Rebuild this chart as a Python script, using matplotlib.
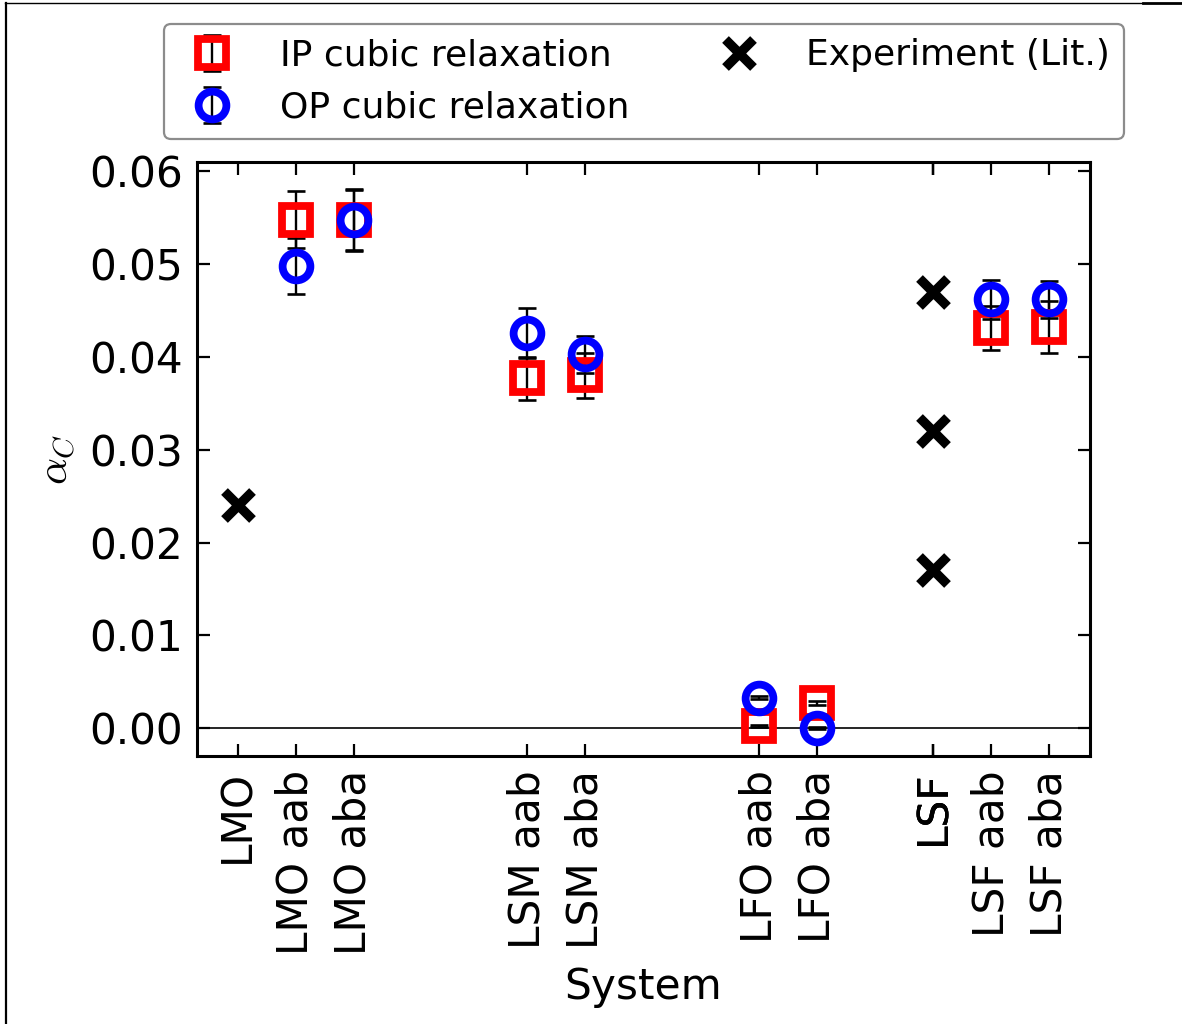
import matplotlib
matplotlib.use("Agg")
import matplotlib.pyplot as plt
from matplotlib.lines import Line2D
from matplotlib.ticker import MultipleLocator

# Computed and experimental alpha_C per system
systems = ['LMO aab', 'LMO aba', 'LSM aab', 'LSM aba',
           'LFO aab', 'LFO aba', 'LSF aab', 'LSF aba']
ip_alpha = [0.0548, 0.0547, 0.0377, 0.0380, 0.0002, 0.0027, 0.0431, 0.0432]
ip_err = [0.0031, 0.0033, 0.0023, 0.0024, 0.0001, 0.0002, 0.0024, 0.0028]
op_alpha = [0.0498, 0.0548, 0.0426, 0.0403, 0.0033, 0.0000, 0.0462, 0.0462]
op_err = [0.0030, 0.0033, 0.0027, 0.0020, 0.0002, 0.0001, 0.0021, 0.0020]

exp_systems = ['LMO', 'LSF', 'LSF', 'LSF']
exp_alpha = [0.024, 0.047, 0.032, 0.017]

# Axis layout: category order and slot on the x axis (groups separated by gaps)
category_order = ['LMO', 'LMO aab', 'LMO aba', 'LSM aab', 'LSM aba',
                  'LFO aab', 'LFO aba', 'LSF', 'LSF aab', 'LSF aba']
category_slot = [0, 1, 2, 5, 6, 9, 10, 12, 13, 14]
slot = dict(zip(category_order, category_slot))

plt.rcParams['font.family'] = ['DejaVu Sans']
plt.rcParams['mathtext.fontset'] = 'cm'

FS = 15.2      # tick labels and axis labels
FS_LEG = 13.0  # legend entries

fig = plt.figure(figsize=(5.91, 5.12), dpi=200)
ax = fig.add_axes([0.1667, 0.2617, 0.922 - 0.1667, 0.8418 - 0.2617])

x_calc = [slot[s] for s in systems]
x_exp = [slot[s] for s in exp_systems]

ax.axhline(0, color='k', lw=0.6, zorder=1)

err_kw = dict(ecolor='k', elinewidth=0.85, capsize=3.2, capthick=0.95)
mk_kw = dict(linestyle='none', markersize=10, markerfacecolor='none')

ip = ax.errorbar(x_calc, ip_alpha, yerr=ip_err, marker='s', color='r',
                 markeredgecolor='r', label='IP cubic relaxation',
                 **err_kw, **mk_kw)
op = ax.errorbar(x_calc, op_alpha, yerr=op_err, marker='o', color='b',
                 markeredgecolor='b', label='OP cubic relaxation',
                 **err_kw, **mk_kw)
# thick marker outlines without thickening the error-bar caps
for cont in (ip, op):
    cont.lines[0].set_markeredgewidth(2.8)

ex, = ax.plot(x_exp, exp_alpha, linestyle='none', marker='x', color='k',
              markersize=10, markeredgewidth=3.4, label='Experiment (Lit.)')

ax.set_xlim(-0.7, 14.7)
ax.set_ylim(-0.003, 0.061)
ax.yaxis.set_major_locator(MultipleLocator(0.01))

tick_labels = exp_systems + systems
ax.set_xticks([slot[s] for s in tick_labels])
ax.set_xticklabels(tick_labels, rotation=90)

ax.tick_params(direction='in', top=True, right=True, length=4.5, width=0.8,
               labelsize=FS, pad=5)
for sp in ax.spines.values():
    sp.set_linewidth(1.1)

ax.set_xlabel('System', fontsize=FS, labelpad=4)
ax.set_ylabel(r'$\alpha_C$', fontsize=FS)

leg = fig.legend([ip, op, ex],
                 ['IP cubic relaxation', 'OP cubic relaxation', 'Experiment (Lit.)'],
                 loc='upper center', bbox_to_anchor=(0.545, 1 - 24 / 1024),
                 borderaxespad=0, ncol=2, numpoints=1, fontsize=FS_LEG,
                 fancybox=True, framealpha=1, edgecolor='0.55',
                 labelspacing=0.5, handlelength=1.87, handletextpad=0.93,
                 columnspacing=2.1, borderpad=0.4)
leg.get_frame().set_linewidth(0.8)

# Frame lines along the left and top edges of the canvas
fig.add_artist(Line2D([6 / 1182, 6 / 1182], [0, 1 - 3 / 1024],
                      transform=fig.transFigure, color='k', lw=0.8))
fig.add_artist(Line2D([5 / 1182, 1143 / 1182], [1 - 2.5 / 1024, 1 - 2.5 / 1024],
                      transform=fig.transFigure, color='k', lw=0.5))
fig.add_artist(Line2D([1143 / 1182, 1], [1 - 3 / 1024, 1 - 3 / 1024],
                      transform=fig.transFigure, color='k', lw=1.0))

fig.savefig('out.png', dpi=200)
